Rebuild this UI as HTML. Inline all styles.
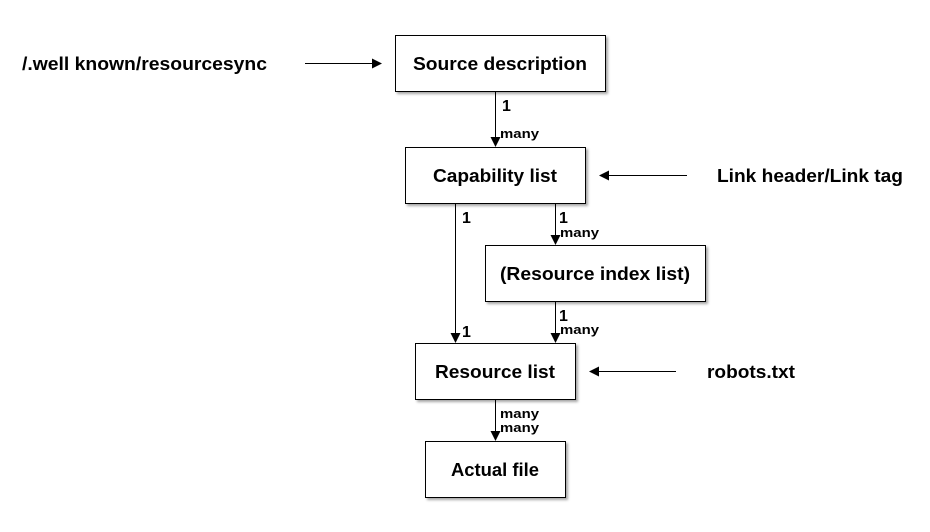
<!DOCTYPE html>
<html><head><style>body{margin:0;background:#fff}svg{display:block}</style></head><body>
<svg width="930" height="532" xmlns="http://www.w3.org/2000/svg" font-family="Liberation Sans, sans-serif" font-weight="bold">
<defs><marker id="a" markerWidth="10" markerHeight="10" refX="9" refY="5" orient="auto" markerUnits="userSpaceOnUse"><path d="M0,0 L10,5 L0,10 z" fill="#000"/></marker>
<filter id="s"><feDropShadow dx="2" dy="2" stdDeviation="1.2" flood-opacity="0.35"/></filter></defs>
<g fill="#fff" stroke="#000" stroke-width="1" filter="url(#s)">
<rect x="395.5" y="35.5" width="210" height="56"/>
<rect x="405.5" y="147.5" width="180" height="56"/>
<rect x="485.5" y="245.5" width="220" height="56"/>
<rect x="415.5" y="343.5" width="160" height="56"/>
<rect x="425.5" y="441.5" width="140" height="56"/>
</g>
<g font-size="18" lengthAdjust="spacingAndGlyphs">
<text x="413" y="70" textLength="174" lengthAdjust="spacingAndGlyphs">Source description</text>
<text x="433" y="182" textLength="124" lengthAdjust="spacingAndGlyphs">Capability list</text>
<text x="500" y="280" textLength="190" lengthAdjust="spacingAndGlyphs">(Resource index list)</text>
<text x="435" y="378" textLength="120" lengthAdjust="spacingAndGlyphs">Resource list</text>
<text x="451" y="476" textLength="88" lengthAdjust="spacingAndGlyphs">Actual file</text>
<text x="22" y="70" textLength="245" lengthAdjust="spacingAndGlyphs">/.well known/resourcesync</text>
<text x="717" y="182" textLength="186" lengthAdjust="spacingAndGlyphs">Link header/Link tag</text>
<text x="707" y="378" textLength="88" lengthAdjust="spacingAndGlyphs">robots.txt</text>
</g>
<g stroke="#000" stroke-width="1" marker-end="url(#a)">
<line x1="495.5" y1="92" x2="495.5" y2="146"/>
<line x1="455.5" y1="204" x2="455.5" y2="342"/>
<line x1="555.5" y1="204" x2="555.5" y2="244"/>
<line x1="555.5" y1="302" x2="555.5" y2="342"/>
<line x1="495.5" y1="400" x2="495.5" y2="440"/>
<line x1="305" y1="63.5" x2="381" y2="63.5"/>
<line x1="687" y1="175.5" x2="600" y2="175.5"/>
<line x1="676" y1="371.5" x2="590" y2="371.5"/>
</g>
<g font-size="16">
<text x="502" y="111">1</text>
<text x="462" y="223">1</text>
<text x="559" y="223">1</text>
<text x="462" y="337">1</text>
<text x="559" y="321">1</text>
</g>
<g font-size="13">
<text x="500" y="138" textLength="39" lengthAdjust="spacingAndGlyphs">many</text>
<text x="560" y="237" textLength="39" lengthAdjust="spacingAndGlyphs">many</text>
<text x="560" y="334" textLength="39" lengthAdjust="spacingAndGlyphs">many</text>
<text x="500" y="418" textLength="39" lengthAdjust="spacingAndGlyphs">many</text>
<text x="500" y="432" textLength="39" lengthAdjust="spacingAndGlyphs">many</text>
</g>
</svg>
</body></html>
